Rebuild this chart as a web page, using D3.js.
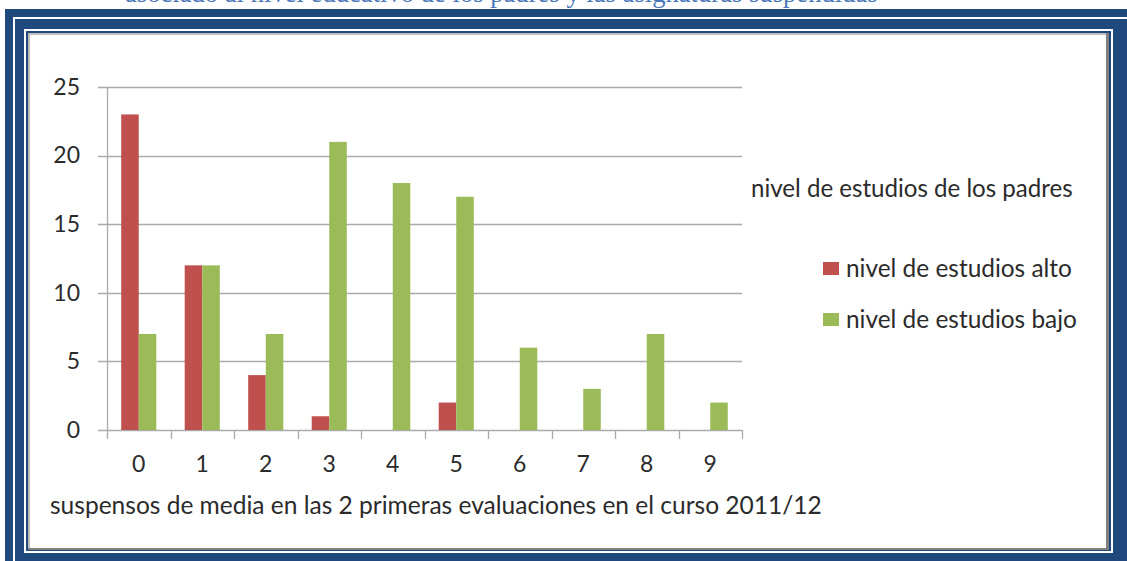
<!DOCTYPE html>
<html>
<head>
<meta charset="utf-8">
<script src="https://cdn.jsdelivr.net/npm/d3@7"></script>
<style>
  body { margin: 0; background: #fff; }
  svg { display: block; }
  .lbl { font-family: Lato, "Open Sans", sans-serif; fill: #2b2b2b; }
</style>
</head>
<body>
<svg id="chart"></svg>
<script>
// data
const categories = ['0', '1', '2', '3', '4', '5', '6', '7', '8', '9'];
const seriesNames = ['nivel de estudios alto', 'nivel de estudios bajo'];
const alto = [23, 12, 4, 1, 0, 2, 0, 0, 0, 0];
const bajo = [7, 12, 7, 21, 18, 17, 6, 3, 7, 2];
const yTicks = [0, 5, 10, 15, 20, 25];
const legendTitle = 'nivel de estudios de los padres';
const xTitle = 'suspensos de media en las 2 primeras evaluaciones en el curso 2011/12';
const pageText = 'asociado al nivel educativo de los padres y las asignaturas suspendidas';

const colors = ['#c0504d', '#9bbb59'];
const width = 1127, height = 561;

// scale a text's font so it spans the width seen in the picture
function fitWidth(sel, w) {
  sel.style('font-size', '24px');
  const len = sel.node().getComputedTextLength();
  sel.style('font-size', (24 * w / len) + 'px');
}

const svg = d3.select('#chart')
  .attr('width', width)
  .attr('height', height);

// cut-off line of document text above the frame
const page = svg.append('text')
  .attr('x', 125)
  .attr('y', 2)
  .style('font-family', '"Liberation Serif", serif')
  .style('fill', '#4a78b8')
  .text(pageText);
fitWidth(page, 753);

// frame (blue with white lines, gray bevel)
svg.append('rect').attr('x', 5).attr('y', 9).attr('width', 1140).attr('height', 570).attr('fill', '#1f497d');
svg.append('rect').attr('x', 14).attr('y', 18).attr('width', 1140).attr('height', 570)
  .attr('fill', 'none').attr('stroke', '#fff').attr('stroke-width', 2);
svg.append('rect').attr('x', 25).attr('y', 30).attr('width', 1087).attr('height', 522)
  .attr('fill', 'none').attr('stroke', '#fff').attr('stroke-width', 2);
svg.append('rect').attr('x', 28).attr('y', 33).attr('width', 1081).attr('height', 517).attr('fill', '#808080');
svg.append('rect').attr('x', 28).attr('y', 33).attr('width', 1078).attr('height', 515).attr('fill', '#bdbdbd');
svg.append('rect').attr('x', 30).attr('y', 35).attr('width', 1076).attr('height', 513).attr('fill', '#fff');

// plot area
const plotL = 107, plotR = 742, plotB = 430, plotT = 87;

const x = d3.scaleBand().domain(categories).range([plotL, plotR]).padding(0);
const xs = d3.scaleBand().domain(seriesNames).range([0, x.bandwidth()])
  .paddingInner(0).paddingOuter(0.81);
const y = d3.scaleLinear().domain([0, 25]).range([plotB, plotT]);

// gridlines
svg.append('g').selectAll('line')
  .data(yTicks)
  .enter().append('line')
  .attr('x1', plotL - 9).attr('x2', plotR)
  .attr('y1', d => Math.round(y(d)) + 0.5)
  .attr('y2', d => Math.round(y(d)) + 0.5)
  .attr('stroke', '#aaaaaa').attr('stroke-width', 1.3);

// y axis line
svg.append('line')
  .attr('x1', plotL + 0.5).attr('x2', plotL + 0.5)
  .attr('y1', plotT).attr('y2', plotB + 9)
  .attr('stroke', '#aaaaaa').attr('stroke-width', 1.3);

// category boundary ticks
const bounds = categories.map(c => x(c)).slice(1).concat([plotR]);
svg.append('g').selectAll('line')
  .data(bounds)
  .enter().append('line')
  .attr('x1', d => Math.round(d) + 0.5).attr('x2', d => Math.round(d) + 0.5)
  .attr('y1', plotB).attr('y2', plotB + 9)
  .attr('stroke', '#aaaaaa').attr('stroke-width', 1.3);

// bars
const rows = categories.map((c, i) => ({cat: c, vals: [alto[i], bajo[i]]}));
const groups = svg.append('g').selectAll('g')
  .data(rows)
  .enter().append('g')
  .attr('transform', d => 'translate(' + x(d.cat) + ',0)');

groups.selectAll('rect')
  .data(d => d.vals.map((v, j) => ({name: seriesNames[j], v: v, j: j})))
  .enter().append('rect')
  .attr('x', d => xs(d.name))
  .attr('width', xs.bandwidth())
  .attr('y', d => y(d.v))
  .attr('height', d => plotB - y(d.v))
  .attr('fill', d => colors[d.j]);

// y labels
const yAxis = svg.append('g')
  .attr('transform', 'translate(' + plotL + ',0)')
  .call(d3.axisLeft(y).tickValues(yTicks).tickSize(0).tickPadding(27));
yAxis.select('.domain').remove();
yAxis.attr('font-family', null).attr('font-size', null);
yAxis.selectAll('text').attr('class', 'lbl').style('font-size', '23px').attr('fill', null);

// x labels
const xAxis = svg.append('g')
  .attr('transform', 'translate(0,' + plotB + ')')
  .call(d3.axisBottom(x).tickSize(0).tickPadding(26));
xAxis.select('.domain').remove();
xAxis.attr('font-family', null).attr('font-size', null);
xAxis.selectAll('text').attr('class', 'lbl').style('font-size', '23px').attr('fill', null);

// x axis title
const xt = svg.append('text')
  .attr('class', 'lbl')
  .attr('x', 50)
  .attr('y', 505)
  .attr('dy', '0.35em')
  .text(xTitle);
fitWidth(xt, 772);

// legend
const lt = svg.append('text')
  .attr('class', 'lbl')
  .attr('x', 751)
  .attr('y', 189)
  .attr('dy', '0.35em')
  .text(legendTitle);
fitWidth(lt, 322);

const legend = svg.append('g').selectAll('g')
  .data(seriesNames)
  .enter().append('g')
  .attr('transform', (d, i) => 'translate(823,' + (268 + i * 51) + ')');

legend.append('rect')
  .attr('x', 0).attr('y', -6)
  .attr('width', 16).attr('height', 13)
  .attr('fill', (d, i) => colors[i]);

const items = legend.append('text')
  .attr('class', 'lbl')
  .attr('x', 23)
  .attr('dy', '0.35em')
  .text(d => d);
fitWidth(d3.select(items.nodes()[0]), 226);
items.style('font-size', d3.select(items.nodes()[0]).style('font-size'));
</script>
</body>
</html>
